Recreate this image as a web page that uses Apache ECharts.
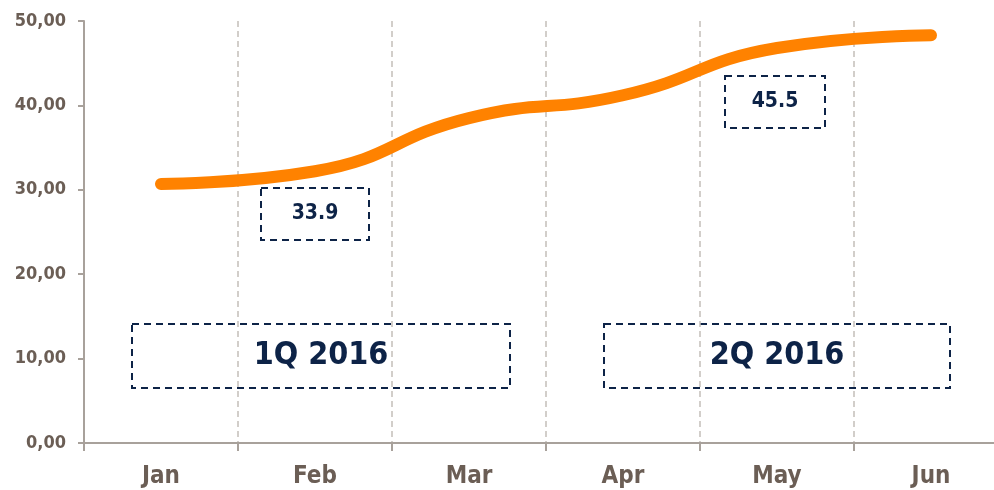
<!DOCTYPE html>
<html>
<head>
<meta charset="utf-8">
<script src="https://cdn.jsdelivr.net/npm/echarts@6/dist/echarts.min.js"></script>
<style>
  html, body { margin: 0; padding: 0; background: #fff; overflow: hidden; }
  /* chart area runs a little past the right edge, like the original */
  #chart { width: 1008px; height: 490px; }
</style>
</head>
<body>
<div id="chart"></div>
<script>
const months = ["Jan", "Feb", "Mar", "Apr", "May", "Jun"];
const values = [30.7, 32.2, 38.5, 41.2, 46.8, 48.3];
const boxLabels = ["33.9", "45.5", "1Q 2016", "2Q 2016"];

const navy = "#0d2347";
const axisGray = "#a8a19b";
const labelBrown = "#6b5e55";
const font = "'DejaVu Sans Condensed', 'DejaVu Sans'";

function box(x, y, w, h, text, size) {
  return {
    type: "group",
    children: [
      {
        type: "rect",
        shape: { x: x, y: y, width: w, height: h },
        style: { fill: "none", stroke: navy, lineWidth: 2, lineDash: [7, 5] }
      },
      {
        type: "text",
        style: {
          x: x + w / 2, y: y + h / 2, text: text,
          fill: navy, align: "center", verticalAlign: "middle",
          font: "bold " + size + "px " + font
        }
      }
    ]
  };
}

const myChart = echarts.init(document.getElementById("chart"));
const option = {
  animation: false,
  grid: { left: 84, top: 21, bottom: 47, right: 0 },
  xAxis: {
    type: "category",
    data: months,
    boundaryGap: true,
    axisLine: { lineStyle: { color: axisGray, width: 2 } },
    axisTick: { show: true, length: 8, lineStyle: { color: axisGray, width: 2 } },
    axisLabel: {
      margin: 22, color: labelBrown, fontWeight: "bold",
      fontSize: 24, fontFamily: font
    },
    splitLine: {
      show: true,
      lineStyle: { color: "#c4beb9", width: 1.5, type: [6, 4] }
    }
  },
  yAxis: {
    type: "value",
    min: 0, max: 50, interval: 10,
    axisLine: { show: true, lineStyle: { color: axisGray, width: 2 } },
    axisTick: { show: true, length: 6, lineStyle: { color: axisGray, width: 2 } },
    splitLine: { show: false },
    axisLabel: {
      margin: 18, color: labelBrown, fontWeight: "bold",
      fontSize: 18, fontFamily: font,
      formatter: function (v) { return v.toFixed(2).replace(".", ","); }
    }
  },
  series: [
    {
      type: "line",
      data: values,
      smooth: 0.5,
      showSymbol: false,
      lineStyle: { color: "#ff8200", width: 12, cap: "round", join: "round" }
    }
  ],
  graphic: [
    box(261, 188, 108, 52, boxLabels[0], 21),
    box(725, 76, 100, 52, boxLabels[1], 21),
    box(132, 324, 378, 64, boxLabels[2], 32),
    box(604, 324, 346, 64, boxLabels[3], 32)
  ]
};
option && myChart.setOption(option);
window.addEventListener("resize", myChart.resize);
</script>
</body>
</html>
